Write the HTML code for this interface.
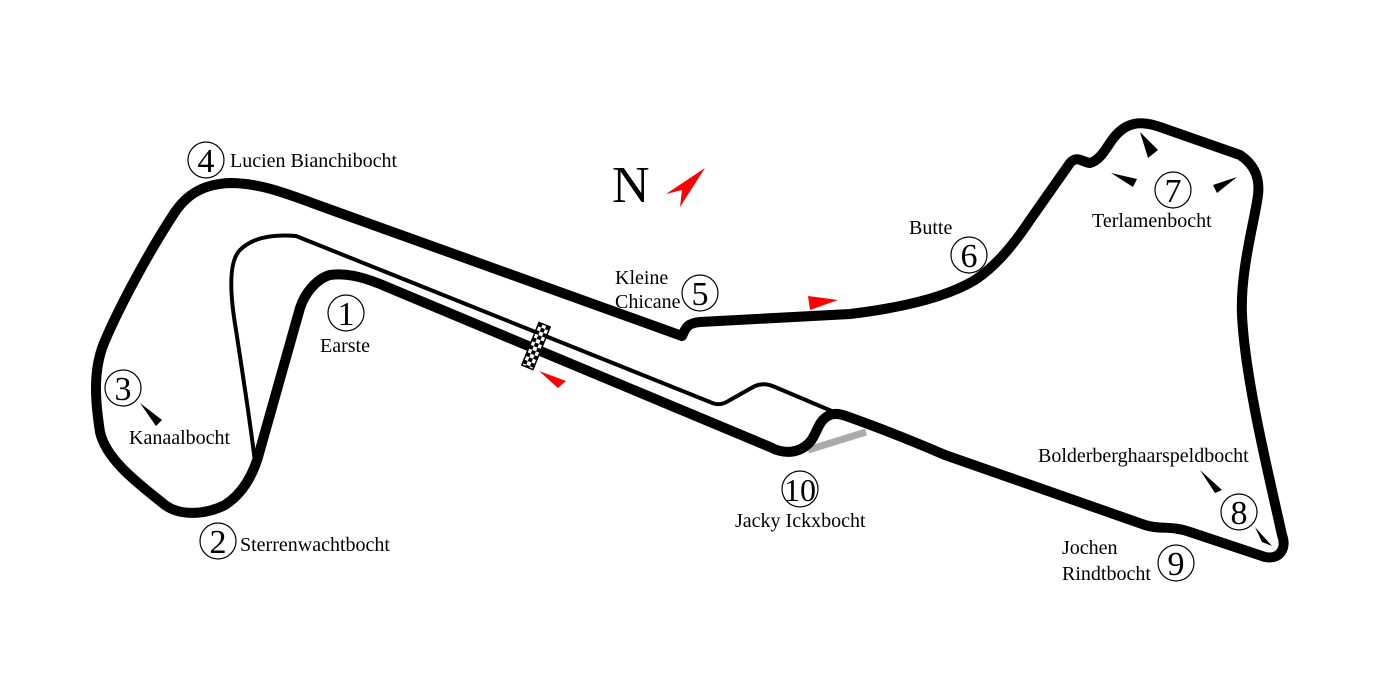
<!DOCTYPE html>
<html><head><meta charset="utf-8"><style>
html,body{margin:0;padding:0;background:#fff;}
svg{display:block;}
text{font-family:"Liberation Serif",serif;fill:#000;}
</style></head><body>
<svg width="1381" height="697" viewBox="0 0 1381 697" xmlns="http://www.w3.org/2000/svg">
<rect width="1381" height="697" fill="#fff"/>
<line x1="808" y1="450" x2="866" y2="432" stroke="#aaa" stroke-width="7"/>
<path d="M255,462 C250,420 242,370 236,330 C230,295 228,262 240,250 C252,238 272,234 296,236 L710,402 C718,406 724,404 730,400 L755,386 C762,383 768,384 775,387 L834,412" fill="none" stroke="#000" stroke-width="4" stroke-linejoin="round"/>
<path d="M682,336 L326,208 C290,195 262,183 230,183 C205,184 188,193 175,212 C150,250 120,305 104,343 C93,370 95,400 100,432 C106,460 140,485 165,505 C180,516 205,515 225,505 C245,492 255,470 260,450 L300,308 C305,292 318,278 330,275 C345,273 360,276 380,284 L770,447 C785,455 800,453 810,442 C818,432 818,420 830,415 C835,413 840,414 846,416 C880,428 910,440 945,455 L1145,525 C1160,530 1170,525 1190,532 L1265,557 C1280,560 1287,548 1282,535 C1270,480 1245,380 1242,315 C1240,270 1255,220 1258,195 C1260,178 1255,165 1240,155 L1160,127 C1140,120 1125,122 1112,140 C1105,150 1100,160 1090,163 C1082,162 1077,155 1070,163 L1030,220 C1010,250 993,268 975,280 C945,298 900,308 850,314 L700,322 C686,323 685,330 682,336 Z" fill="none" stroke="#000" stroke-width="10" stroke-linejoin="round"/>
<g transform="translate(536,346) rotate(22)">
<rect x="-6" y="-23" width="12" height="46" fill="#fff" stroke="#000" stroke-width="1.5"/>
<g fill="#000">
<rect x="-6" y="-23" width="4" height="4"/><rect x="2" y="-23" width="4" height="4"/><rect x="-2" y="-19" width="4" height="4"/>
<rect x="-6" y="-15" width="4" height="4"/><rect x="2" y="-15" width="4" height="4"/><rect x="-2" y="-11" width="4" height="4"/>
<rect x="-6" y="-7" width="4" height="4"/><rect x="2" y="-7" width="4" height="4"/><rect x="-2" y="-3" width="4" height="4"/>
<rect x="-6" y="1" width="4" height="4"/><rect x="2" y="1" width="4" height="4"/><rect x="-2" y="5" width="4" height="4"/>
<rect x="-6" y="9" width="4" height="4"/><rect x="2" y="9" width="4" height="4"/><rect x="-2" y="13" width="4" height="4"/>
<rect x="-6" y="17" width="4" height="4"/><rect x="2" y="17" width="4" height="4"/><rect x="-2" y="21" width="4" height="2"/>
</g></g>
<polygon points="808,296 838,300 810,310" fill="red"/>
<polygon points="539,371 566,381 558,388" fill="red"/>
<polygon points="666,194 705,168 680,207 682,190" fill="red"/>
<text x="612" y="202" font-size="52">N</text>
<polygon points="140,403 162,420 156,426" fill="#000"/>
<polygon points="1140,132 1158,150 1148,158" fill="#000"/>
<polygon points="1111,173 1137,179 1133,187" fill="#000"/>
<polygon points="1237,177 1213,185 1217,193" fill="#000"/>
<polygon points="1200,470 1222,490 1215,493" fill="#000"/>
<polygon points="1255,527 1272,546 1262,542" fill="#000"/>
<g fill="none" stroke="#000" stroke-width="1.2">
<circle cx="346" cy="313" r="18"/><circle cx="218" cy="541" r="18"/><circle cx="123" cy="388" r="18"/>
<circle cx="206" cy="160" r="18"/><circle cx="700" cy="293" r="18"/><circle cx="969" cy="255" r="18"/>
<circle cx="1173" cy="190" r="18"/><circle cx="1239" cy="512" r="18"/><circle cx="1176" cy="563" r="18"/>
<circle cx="800" cy="489" r="18"/>
</g>
<g font-size="34" text-anchor="middle">
<text x="346" y="325">1</text><text x="218" y="553">2</text><text x="123" y="400">3</text>
<text x="206" y="172">4</text><text x="700" y="305">5</text><text x="969" y="267">6</text>
<text x="1173" y="202">7</text><text x="1239" y="524">8</text><text x="1176" y="575">9</text>
<text x="800" y="501" font-size="32">10</text>
</g>
<g font-size="20">
<text x="230" y="167" textLength="167">Lucien Bianchibocht</text>
<text x="320" y="352">Earste</text>
<text x="129" y="444">Kanaalbocht</text>
<text x="240" y="551">Sterrenwachtbocht</text>
<text x="615" y="284">Kleine</text>
<text x="615" y="308">Chicane</text>
<text x="909" y="234">Butte</text>
<text x="1092" y="227">Terlamenbocht</text>
<text x="1038" y="462">Bolderberghaarspeldbocht</text>
<text x="1062" y="554">Jochen</text>
<text x="1062" y="580">Rindtbocht</text>
<text x="735" y="527">Jacky Ickxbocht</text>
</g>
</svg>
</body></html>
